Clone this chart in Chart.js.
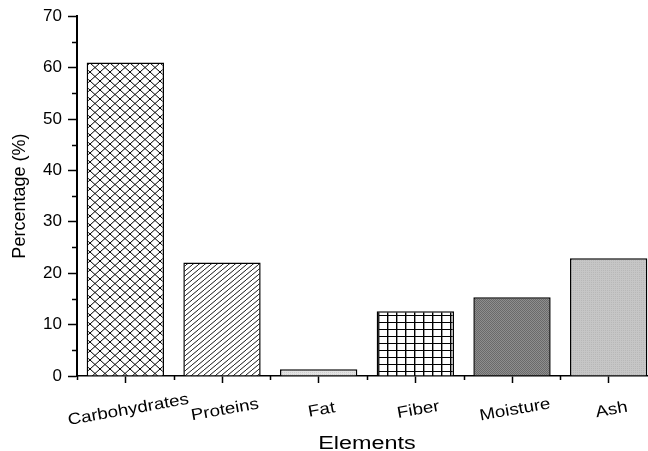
<!DOCTYPE html>
<html>
<head>
<meta charset="utf-8">
<script src="https://cdn.jsdelivr.net/npm/chart.js@4.4.1/dist/chart.umd.min.js"></script>
<style>
  html, body { margin: 0; padding: 0; overflow: hidden; background: #fff; }
  #wrap { width: 648px; height: 451px; }
</style>
</head>
<body>
<div id="wrap"><canvas id="chart" width="648" height="451"></canvas></div>
<script>
(function () {
  "use strict";

  var categories = ["Carbohydrates", "Proteins", "Fat", "Fiber", "Moisture", "Ash"];
  var percentages = [61, 22.1, 1.3, 12.6, 15.3, 22.9];
  var yMin = 0, yMax = 70, yStep = 10;
  var yTitle = "Percentage (%)";
  var xTitle = "Elements";

  var FONT = '"Liberation Sans", Arial, Helvetica, sans-serif';
  // the plot runs a little past the right edge of the picture
  var PLOT_RIGHT = 657;

  function tile(w, h, draw) {
    var c = document.createElement("canvas");
    c.width = w;
    c.height = h;
    var g = c.getContext("2d");
    g.fillStyle = "#fff";
    g.fillRect(0, 0, w, h);
    draw(g, w, h);
    return document.getElementById("chart").getContext("2d").createPattern(c, "repeat");
  }

  // cross hatch
  var pCross = tile(10, 9, function (g, w, h) {
    g.strokeStyle = "#000";
    g.lineWidth = 1;
    g.beginPath();
    for (var k = -1; k <= 1; k++) {
      g.moveTo(k * w, 0); g.lineTo(k * w + w, h);
      g.moveTo(k * w, h); g.lineTo(k * w + w, 0);
    }
    g.stroke();
  });

  // forward diagonal
  var pDiag = tile(6, 5, function (g, w, h) {
    g.strokeStyle = "#000";
    g.lineWidth = 0.9;
    g.beginPath();
    for (var k = -1; k <= 1; k++) {
      g.moveTo(k * w, h); g.lineTo(k * w + w, 0);
    }
    g.stroke();
  });

  // square grid
  var pGrid = tile(9, 7, function (g, w, h) {
    g.fillStyle = "#000";
    g.fillRect(0, 0, 1, h);
    g.fillRect(0, 0, w, 1);
    g.fillStyle = "#999";
    g.fillRect(1, 1, 1, h - 1);
  });

  // fine dark texture
  var pDark = tile(2, 2, function (g) {
    g.fillStyle = "#8e8e8e";
    g.fillRect(0, 0, 2, 2);
    g.fillStyle = "#6a6a6a";
    g.fillRect(0, 0, 1, 1);
    g.fillRect(1, 1, 1, 1);
  });

  var pLight = tile(2, 2, function (g) {
    g.fillStyle = "#e2e2e2";
    g.fillRect(0, 0, 2, 2);
    g.fillStyle = "#cfcfcf";
    g.fillRect(0, 0, 1, 1);
  });

  var pAsh = tile(2, 2, function (g) {
    g.fillStyle = "#c6c6c6";
    g.fillRect(0, 0, 2, 2);
    g.fillStyle = "#b8b8b8";
    g.fillRect(1, 0, 1, 1);
  });

  var fills = [pCross, pDiag, pLight, pGrid, pDark, pAsh];

  var widenPlot = {
    id: "widenPlot",
    afterLayout: function (chart) {
      var xs = chart.scales.x;
      chart.chartArea.right = PLOT_RIGHT;
      chart.chartArea.width = PLOT_RIGHT - chart.chartArea.left;
      xs.right = PLOT_RIGHT;
      xs.width = PLOT_RIGHT - xs.left;
      xs.configure();
    },
  };

  var axisExtras = {
    id: "axisExtras",
    afterDraw: function (chart) {
      var ctx = chart.ctx;
      var xs = chart.scales.x, ys = chart.scales.y, area = chart.chartArea;
      ctx.save();
      ctx.strokeStyle = "#000";
      ctx.lineWidth = 1.5;
      ctx.beginPath();
      // minor ticks on y, between labelled ones
      for (var v = yMin + yStep / 2; v < yMax; v += yStep) {
        var py = Math.round(ys.getPixelForValue(v)) + 0.5;
        ctx.moveTo(area.left - 5, py);
        ctx.lineTo(area.left, py);
      }
      // minor ticks on x, at category edges
      var half = (xs.getPixelForValue(1) - xs.getPixelForValue(0)) / 2;
      for (var i = 0; i <= categories.length; i++) {
        var px = Math.round(xs.getPixelForValue(0) - half + i * 2 * half) + 0.5;
        ctx.moveTo(px, area.bottom);
        ctx.lineTo(px, area.bottom + 4);
      }
      ctx.stroke();

      // slanted category labels, centred under their ticks
      ctx.fillStyle = "#000";
      ctx.font = "16px " + FONT;
      ctx.textAlign = "center";
      ctx.textBaseline = "middle";
      categories.forEach(function (c, i) {
        ctx.save();
        ctx.translate(xs.getPixelForTick(i) + 3, area.bottom + 34);
        ctx.rotate(-10 * Math.PI / 180);
        ctx.scale(1.17, 1);
        ctx.fillText(c, 0, 0);
        ctx.restore();
      });

      ctx.font = "18px " + FONT;
      ctx.textBaseline = "alphabetic";
      ctx.translate((area.left + area.right) / 2, area.bottom + 73);
      ctx.scale(1.3, 1);
      ctx.fillText(xTitle, 0, 0);
      ctx.restore();
    },
  };

  new Chart(document.getElementById("chart"), {
    type: "bar",
    data: {
      labels: categories,
      datasets: [
        {
          data: percentages,
          backgroundColor: fills,
          borderColor: "#000",
          borderWidth: 1.5,
          barPercentage: 0.8,
          categoryPercentage: 1,
        },
      ],
    },
    options: {
      responsive: false,
      animation: false,
      devicePixelRatio: 1,
      layout: { padding: { left: 0, top: 16, right: 0, bottom: 0 } },
      plugins: { legend: { display: false }, tooltip: { enabled: false } },
      scales: {
        x: {
          type: "category",
          offset: true,
          afterFit: function (s) { s.height = 75; },
          grid: {
            offset: false,
            drawOnChartArea: false,
            tickLength: 7,
            tickColor: "#000",
            tickWidth: 1.5,
          },
          border: { color: "#000", width: 1.5 },
          ticks: { display: false },
        },
        y: {
          min: yMin,
          max: yMax,
          afterFit: function (s) { s.width = 77; },
          grid: {
            drawOnChartArea: false,
            tickLength: 9,
            tickColor: "#000",
            tickWidth: 1.5,
          },
          border: { color: "#000", width: 2 },
          ticks: {
            stepSize: yStep,
            padding: 6,
            color: "#000",
            font: { family: FONT, size: 17 },
          },
          title: {
            display: true,
            text: yTitle,
            color: "#000",
            padding: { top: 9, bottom: 0 },
            font: { family: FONT, size: 18 },
          },
        },
      },
    },
    plugins: [widenPlot, axisExtras],
  });
})();
</script>
</body>
</html>
